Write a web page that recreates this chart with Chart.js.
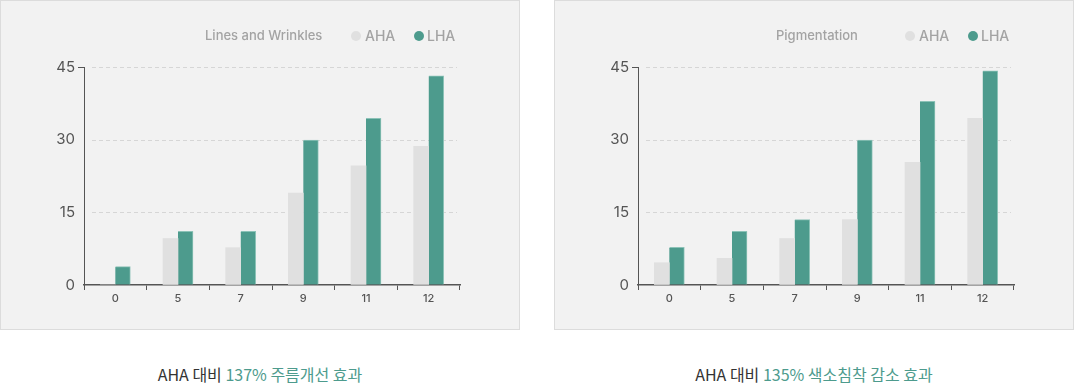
<!DOCTYPE html>
<html>
<head>
<meta charset="utf-8">
<script src="https://cdn.jsdelivr.net/npm/chart.js@4/dist/chart.umd.min.js"></script>
<style>
  html, body { margin: 0; padding: 0; background: #ffffff; }
  body { width: 1074px; height: 383px; position: relative; overflow: hidden; font-family: Inter, "Noto Sans", sans-serif; }
  .panel { position: absolute; top: 0; width: 520px; height: 330px; }
  .panel .bg { position: absolute; left: 0; top: 0; right: 0; bottom: 0; background: #f2f2f2; border: 1px solid #dcdcdc; box-sizing: border-box; }
  .panel canvas { position: absolute; left: 0; top: 0; }
  .hdr { position: absolute; top: 25px; height: 20px; line-height: 20px; color: #a3a3a3; font-size: 13px; font-weight: 500; white-space: nowrap; }
  .dot { position: absolute; top: 31px; width: 10px; height: 10px; border-radius: 50%; }
  .leg { position: absolute; top: 26px; height: 20px; line-height: 20px; color: #a3a3a3; font-size: 14px; font-weight: 500; white-space: nowrap; }
  .cap { position: absolute; top: 362px; width: 520px; text-align: center; font-family: "Noto Sans CJK KR", Inter, sans-serif; font-size: 16px; font-weight: 400; color: #333; white-space: nowrap; }
  .cap .hl { color: #4d9b8d; }
</style>
</head>
<body>
<div class="panel" id="p1" style="left:0">
  <div class="bg"></div>
  <canvas id="c1" width="520" height="330"></canvas>
  <div class="hdr" style="left:205px">Lines and Wrinkles</div>
  <div class="dot" style="left:351px;background:#e0e0e0"></div>
  <div class="leg" style="left:365px">AHA</div>
  <div class="dot" style="left:414px;background:#4d9b8d"></div>
  <div class="leg" style="left:427px">LHA</div>
</div>
<div class="panel" id="p2" style="left:554px">
  <div class="bg"></div>
  <canvas id="c2" width="520" height="330"></canvas>
  <div class="hdr" style="left:222px">Pigmentation</div>
  <div class="dot" style="left:351px;background:#e0e0e0"></div>
  <div class="leg" style="left:365px">AHA</div>
  <div class="dot" style="left:414px;background:#4d9b8d"></div>
  <div class="leg" style="left:427px">LHA</div>
</div>
<div class="cap" style="left:0">AHA 대비 <span class="hl">137% 주름개선 효과</span></div>
<div class="cap" style="left:554px">AHA 대비 <span class="hl">135% 색소침착 감소 효과</span></div>

<script>
const categories = ['0', '5', '7', '9', '11', '12'];
const seriesNames = ['AHA', 'LHA'];
const wrinklesAHA = [0, 9.6, 7.7, 19, 24.6, 28.6];
const wrinklesLHA = [3.8, 11.1, 11.1, 29.9, 34.4, 43.2];
const pigmentAHA = [4.6, 5.5, 9.6, 13.5, 25.3, 34.4];
const pigmentLHA = [7.8, 11.1, 13.5, 29.9, 37.9, 44.2];
const yMin = 0;
const yMax = 45;
const yStep = 15;

const AHA_COLOR = '#e0e0e0';
const LHA_COLOR = '#4d9b8d';

const dashedGrid = {
  id: 'dashedGrid',
  beforeDatasetsDraw(chart) {
    const y = chart.scales.y;
    const area = chart.chartArea;
    const ctx = chart.ctx;
    ctx.save();
    ctx.strokeStyle = '#d6d6d6';
    ctx.lineWidth = 1;
    ctx.setLineDash([4, 3]);
    y.ticks.forEach(t => {
      if (t.value === yMin) return;
      const py = Math.round(y.getPixelForValue(t.value)) + 0.5;
      ctx.beginPath();
      ctx.moveTo(area.left + 8, py);
      ctx.lineTo(area.right - 3, py);
      ctx.stroke();
    });
    ctx.restore();
  }
};

function makeChart(id, ahaData, lhaData) {
  return new Chart(document.getElementById(id), {
    type: 'bar',
    data: {
      labels: categories,
      datasets: [
        { label: seriesNames[0], data: ahaData, backgroundColor: AHA_COLOR, borderWidth: 0, barThickness: 15 },
        { label: seriesNames[1], data: lhaData, backgroundColor: LHA_COLOR, borderColor: '#8cc2b7', borderWidth: { top: 1, left: 0, right: 1, bottom: 0 }, borderSkipped: 'bottom', barThickness: 15 }
      ]
    },
    options: {
      responsive: false,
      animation: false,
      devicePixelRatio: 1,
      layout: { padding: { left: 0, right: 60, top: 67, bottom: 0 } },
      plugins: { legend: { display: false }, tooltip: { enabled: false }, title: { display: false } },
      scales: {
        x: {
          grid: { display: true, offset: true, drawOnChartArea: false, drawTicks: true, tickLength: 5, color: '#555555', lineWidth: 1 },
          border: { display: true, color: '#555555', width: 1.5 },
          ticks: { color: '#555555', font: { family: 'Inter', size: 11, weight: '500' }, padding: 2 },
          afterFit(scale) { scale.height = 45; }
        },
        y: {
          min: yMin, max: yMax,
          grid: { display: true, drawOnChartArea: false, drawTicks: true, tickLength: 6,
                  color: c => (c.tick && c.tick.value === yMax) ? '#555555' : 'rgba(0,0,0,0)' },
          border: { display: true, color: '#555555', width: 1 },
          ticks: { stepSize: yStep, color: '#555555', font: { family: 'Inter', size: 15 }, padding: 3 },
          afterFit(scale) { scale.width = 84; }
        }
      }
    },
    plugins: [dashedGrid]
  });
}

makeChart('c1', wrinklesAHA, wrinklesLHA);
makeChart('c2', pigmentAHA, pigmentLHA);
</script>
</body>
</html>
